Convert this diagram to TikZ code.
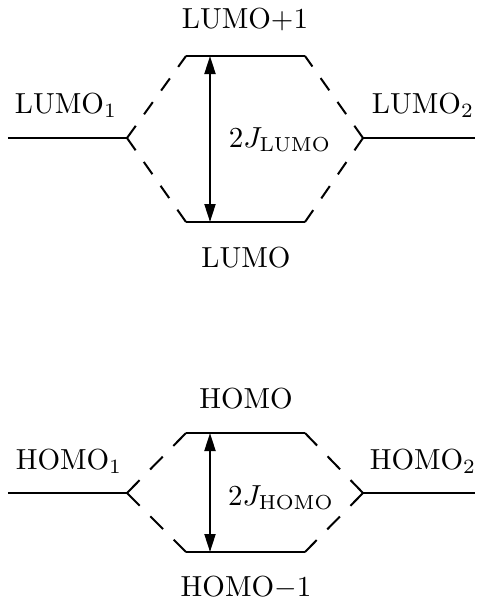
\documentclass[tikz,border=0pt]{standalone}
\usetikzlibrary{arrows.meta}
\begin{document}
\begin{tikzpicture}[x=0.5pt,y=-0.5pt,
  level/.style={line width=1pt},
  splitL/.style={line width=1pt, dash pattern=on 7.5pt off 7.1pt},
  splitH/.style={line width=1pt, dash pattern=on 9pt off 7.5pt},
  gap/.style={line width=1pt, {Triangle[length=9pt,width=5.5pt]}-{Triangle[length=9pt,width=5.5pt]}},
  lbl/.style={inner sep=0pt, scale=1.45, anchor=base}]
\useasboundingbox (0,0) rectangle (483,602);
% ---------- LUMO ----------
\coordinate (l1a) at (8,138);
\coordinate (l1b) at (127,138);
\coordinate (l2a) at (363,138);
\coordinate (l2b) at (475,138);
\coordinate (lua) at (186,56);
\coordinate (lub) at (305,56);
\coordinate (lda) at (186,222);
\coordinate (ldb) at (305,222);
\coordinate (lat) at (210,56);
\coordinate (lab) at (210,222);
\draw[level] (l1a) -- (l1b);
\draw[level] (l2a) -- (l2b);
\draw[level] (lua) -- (lub);
\draw[level] (lda) -- (ldb);
\draw[splitL] (l1b) -- (lua);
\draw[splitL] (l1b) -- (lda);
\draw[splitL] (l2a) -- (lub);
\draw[splitL] (l2a) -- (ldb);
\draw[gap] (lat) -- (lab);
\node[lbl] (tLUMOp) at (245,28) {LUMO$+$1};
\node[lbl] (tLUMO) at (246,267) {LUMO};
\node[lbl] (tL1) at (66,113) {LUMO$_1$};
\node[lbl] (tL2) at (423,113) {LUMO$_2$};
\node[lbl] (tJL) at (280,147) {$2J_{\mathrm{LUMO}}$};
% ---------- HOMO ----------
\coordinate (h1a) at (8,493);
\coordinate (h1b) at (127,493);
\coordinate (h2a) at (363,493);
\coordinate (h2b) at (475,493);
\coordinate (hua) at (186,433);
\coordinate (hub) at (305,433);
\coordinate (hda) at (186,552);
\coordinate (hdb) at (305,552);
\coordinate (hat) at (210,433);
\coordinate (hab) at (210,552);
\draw[level] (h1a) -- (h1b);
\draw[level] (h2a) -- (h2b);
\draw[level] (hua) -- (hub);
\draw[level] (hda) -- (hdb);
\draw[splitH] (h1b) -- (hua);
\draw[splitH] (h1b) -- (hda);
\draw[splitH] (h2a) -- (hub);
\draw[splitH] (h2a) -- (hdb);
\draw[gap] (hat) -- (hab);
\node[lbl] (tHOMO) at (246,408) {HOMO};
\node[lbl] (tHOMOm) at (246,596) {HOMO$-$1};
\node[lbl] (tH1) at (69,469) {HOMO$_1$};
\node[lbl] (tH2) at (423,469) {HOMO$_2$};
\node[lbl] (tJH) at (281,505) {$2J_{\mathrm{HOMO}}$};
\end{tikzpicture}
\end{document}
